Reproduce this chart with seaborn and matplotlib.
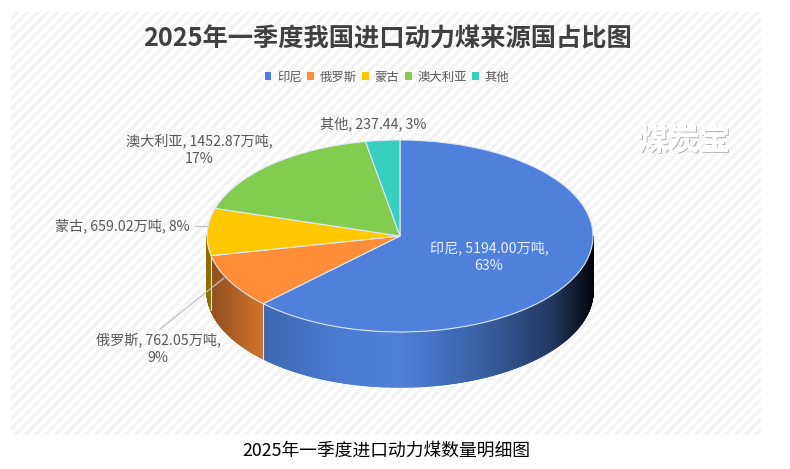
import numpy as np
import matplotlib
matplotlib.use("Agg")
import matplotlib.pyplot as plt
import matplotlib.patheffects as pe
from matplotlib.patches import Rectangle, Polygon
from matplotlib.lines import Line2D
import seaborn as sns

# data
countries = ["印尼", "俄罗斯", "蒙古", "澳大利亚", "其他"]
values = [5194.00, 762.05, 659.02, 1452.87, 237.44]
label_texts = [
    "印尼, 5194.00万吨,\n63%",
    "俄罗斯, 762.05万吨,\n9%",
    "蒙古, 659.02万吨, 8%",
    "澳大利亚, 1452.87万吨,\n17%",
    "其他, 237.44, 3%",
]
colors = ["#4F81DC", "#FF8C37", "#FFC800", "#82CC4F", "#36CFC0"]

title = "2025年一季度我国进口动力煤来源国占比图"
caption = "2025年一季度进口动力煤数量明细图"
watermark = "煤炭宝"

sns.set_theme(style="white")
plt.rcParams["font.family"] = ["Noto Sans CJK SC", "DejaVu Sans"]
palette = sns.color_palette(colors)

W, H = 790, 469
fig = plt.figure(figsize=(W / 100, H / 100), dpi=100, facecolor="white")

# ---- pixel layer: striped panel
bg = fig.add_axes([0, 0, 1, 1], zorder=0)
bg.set_xlim(0, W)
bg.set_ylim(H, 0)
bg.axis("off")
panel = Rectangle((11, 12), 750, 423, fc="white", ec="none")
bg.add_patch(panel)
for c in np.arange(0, W + H + 440, 10):
    ln, = bg.plot([c - 500, c], [0 + 500, 0], color="#f3f3f3", lw=2.2, solid_capstyle="butt")
    ln.set_clip_path(panel)

# ---- pie, squashed by letting the axes aspect go free
RX, RY = 193, 96
CX, CY = 400, 236
DEPTH = 55 / RY

ax = fig.add_axes([0, 0, 1, 1], zorder=1)
ax.patch.set_alpha(0)
wedges, _ = ax.pie(
    values,
    colors=palette,
    startangle=90,
    counterclock=False,
    radius=1,
    wedgeprops=dict(edgecolor="#dfe8f5", linewidth=0.8, zorder=3),
)
ax.set_aspect("auto")
ax.set_xlim(-CX / RX, (W - CX) / RX)
ax.set_ylim((CY - H) / RY, CY / RY)


def shade(x):
    # 3d bevel: darker to the left, nearly black on the right edge
    return np.interp(x, [-1, -0.74, -0.3, 0, 0.5, 0.8, 1], [0.55, 0.8, 0.95, 1.0, 0.68, 0.42, 0.03])


# ---- side wall of the pie, built from the same shares
shares = np.array(values) / sum(values) * 360
edges = np.concatenate([[0], np.cumsum(shares)])
for i, col in enumerate(palette):
    angs = np.arange(edges[i], edges[i + 1] + 0.25, 0.25)
    angs = angs[(angs >= 90) & (angs <= 270)]
    if len(angs) < 2:
        continue
    for a0, a1 in zip(angs[:-1], angs[1:]):
        xs = np.sin(np.radians([a0, a1]))
        ys = np.cos(np.radians([a0, a1]))
        rgb = np.array(col) * shade(xs.mean())
        ax.add_patch(Polygon(
            [(xs[0], ys[0]), (xs[1], ys[1]), (xs[1], ys[1] - DEPTH), (xs[0], ys[0] - DEPTH)],
            fc=rgb, ec=rgb, lw=1.0, zorder=1,
        ))
    # light seam between neighbouring slices
    a = np.radians(angs[-1])
    if 90 < angs[-1] < 268:
        ax.plot([np.sin(a)] * 2, [np.cos(a), np.cos(a) - DEPTH], color="#dfe8f5", lw=0.8, zorder=2)

# ---- title, caption, watermark
bg2 = fig.add_axes([0, 0, 1, 1], zorder=2)
bg2.set_xlim(0, W)
bg2.set_ylim(H, 0)
bg2.axis("off")
bg2.text(387, 39, title, ha="center", va="center", fontsize=18.2, fontweight="bold", color="#404040")
bg2.text(386, 451, caption, ha="center", va="center", fontsize=12.8, color="black")
bg2.text(684, 141, watermark, ha="center", va="center", fontsize=22, fontweight="bold", color="white",
         path_effects=[pe.withSimplePatchShadow(offset=(0.8, -0.8), shadow_rgbFace="#999999", alpha=0.7), pe.Normal()])

# ---- legend
handles = [Rectangle((0, 0), 1, 1, fc=c, ec="none") for c in palette]
bg2.legend(
    handles, countries, ncol=5, loc="center", bbox_to_anchor=(387 / W, 1 - 77 / H),
    bbox_transform=fig.transFigure, frameon=False, fontsize=8.9, labelcolor="#595959",
    handlelength=0.55, handleheight=0.55, handletextpad=0.45, columnspacing=0.45,
)

# ---- data labels and leader lines
label_xy = [(489, 257), (158, 349), (122, 226), (199, 150), (373, 124)]
label_cols = ["#EAF0FB", "#595959", "#595959", "#595959", "#595959"]
for txt, (x, y), col in zip(label_texts, label_xy, label_cols):
    bg2.text(x, y, txt, ha="center", va="center", fontsize=10.2, color=col, linespacing=1.3)
bg2.add_line(Line2D([224, 160], [278, 329], color="#bfbfbf", lw=0.9))
bg2.add_line(Line2D([195, 207], [226, 226], color="#bfbfbf", lw=0.9))

fig.savefig("out.png", dpi=100)
